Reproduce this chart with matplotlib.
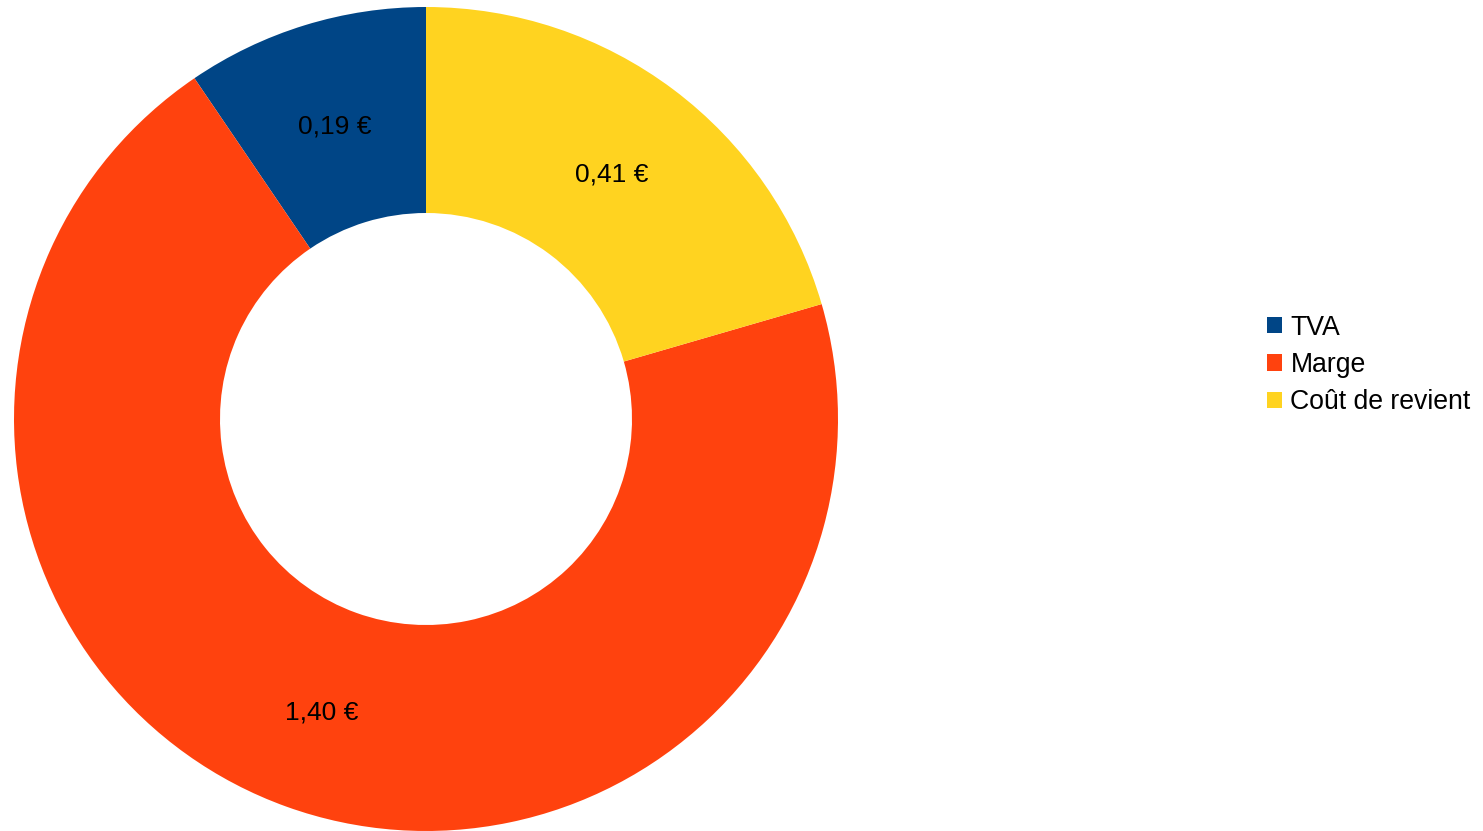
import matplotlib.pyplot as plt

plt.rcParams['font.family'] = ['Liberation Sans', 'DejaVu Sans']

# Donut data (counter-clockwise from 12 o'clock)
categories = ['TVA', 'Marge', 'Coût de revient']
values = [0.19, 1.40, 0.41]
colors = ['#004586', '#ff420e', '#ffd320']

W, H = 1483, 831
fig = plt.figure(figsize=(W / 100, H / 100), dpi=100)

# pie centred at (426, 419) px with radius ~412 px
cx, cy, r = 426, 419, 412
ax = fig.add_axes([(cx - r) / W, (H - cy - r) / H, 2 * r / W, 2 * r / H])

labels = [f'{v:.2f} €'.replace('.', ',') for v in values]
wedges, texts = ax.pie(values, colors=colors, startangle=90, radius=1,
                       labels=labels, labeldistance=0.75,
                       wedgeprops=dict(width=0.5, linewidth=0),
                       textprops=dict(fontsize=19, color='black',
                                      ha='center', va='center_baseline'))
ax.set_xlim(-1, 1)
ax.set_ylim(-1, 1)
ax.set_aspect('equal')

fig.legend(wedges, categories, loc='center left',
           bbox_to_anchor=(1267 / W, (H - 365) / H),
           frameon=False, fontsize=19.2,
           handlelength=0.56, handleheight=0.56,
           handletextpad=0.32, labelspacing=0.42,
           borderpad=0, borderaxespad=0)

fig.savefig('out.png', dpi=100)
